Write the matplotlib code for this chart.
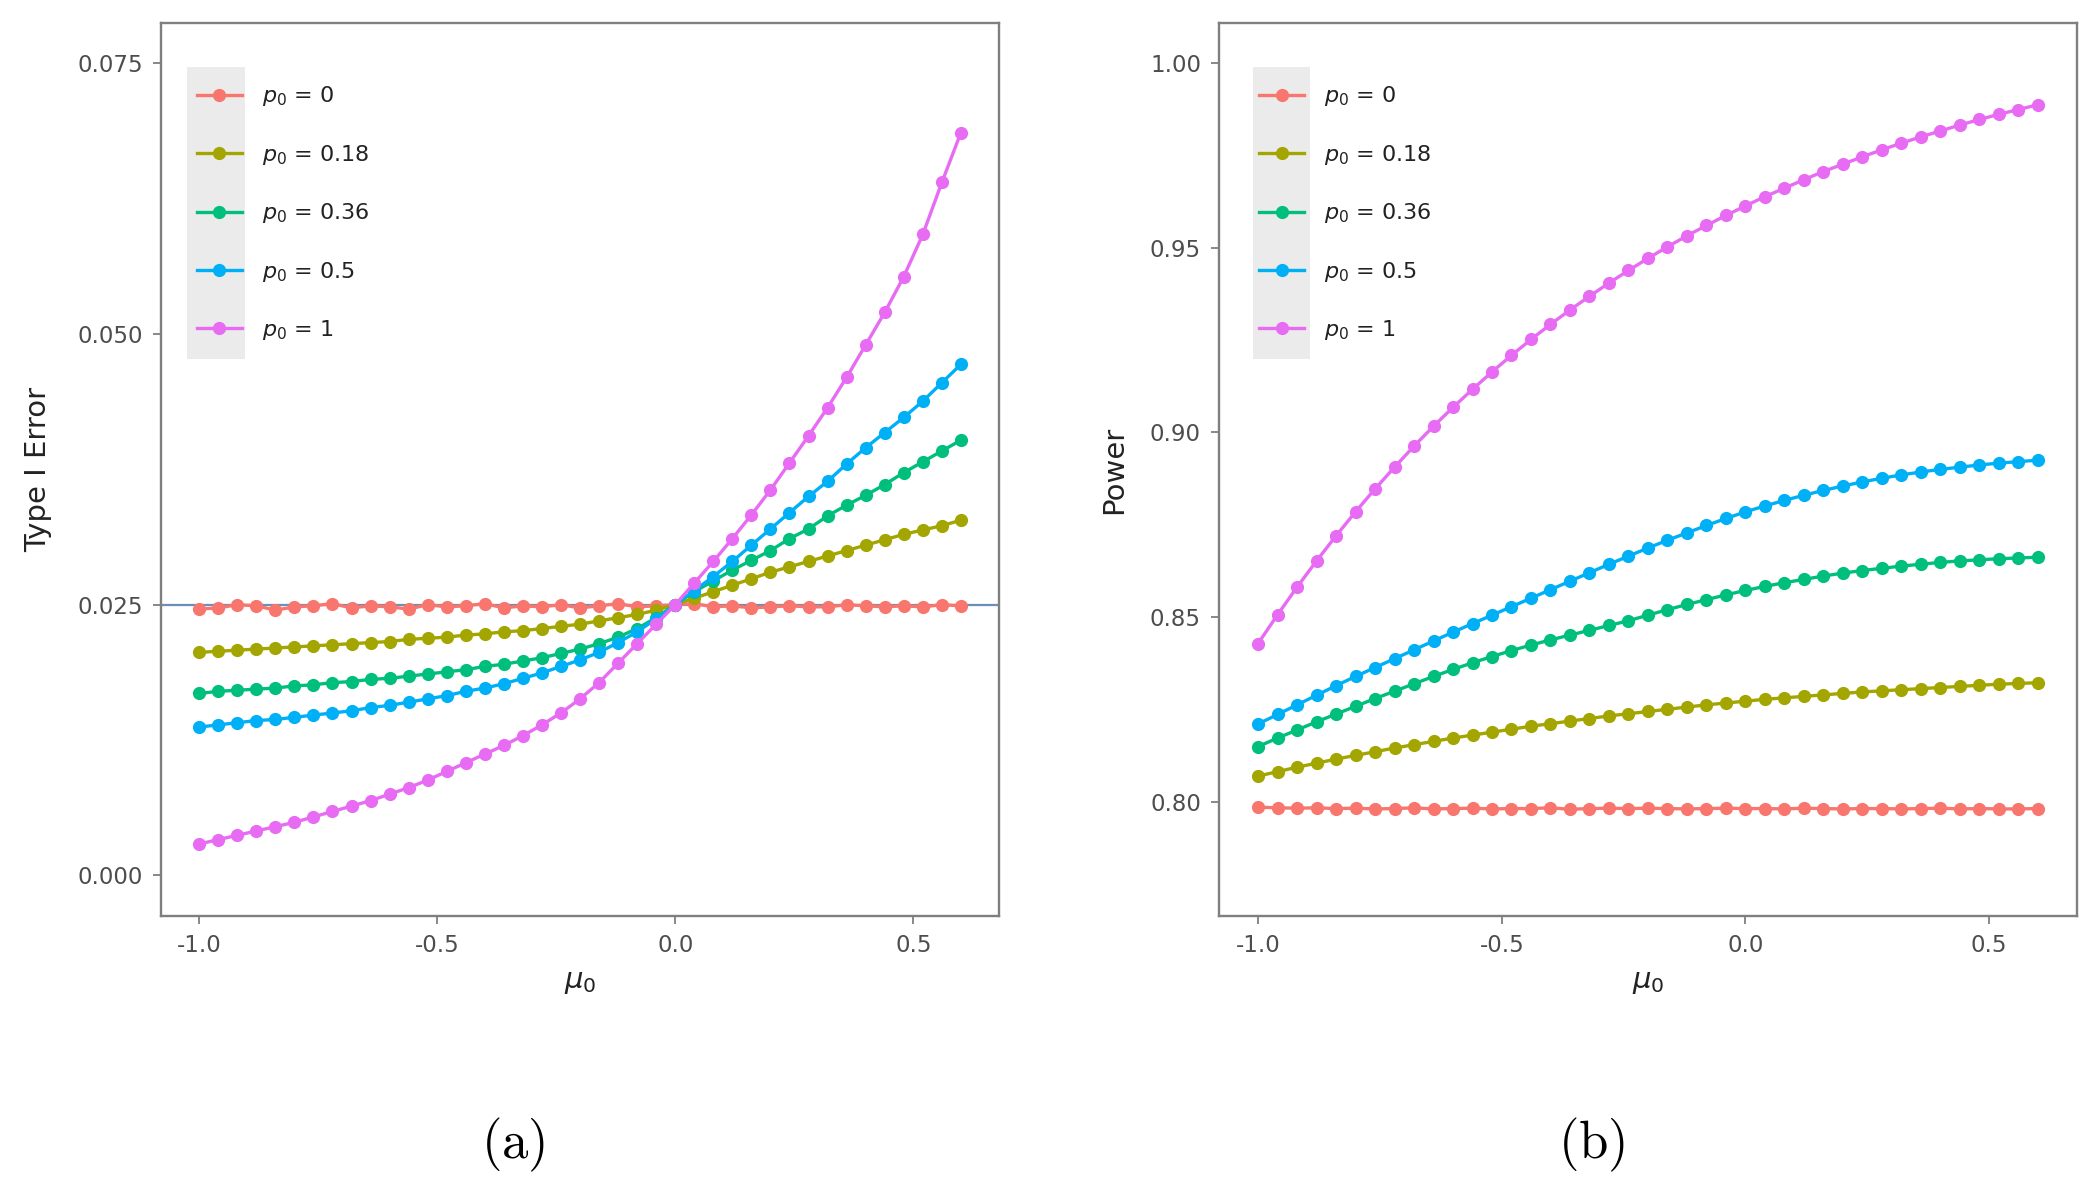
import matplotlib
matplotlib.use("Agg")
import matplotlib.pyplot as plt
from matplotlib.patches import Rectangle

plt.rcParams['font.family'] = ['DejaVu Sans']
plt.rcParams['axes.unicode_minus'] = False
plt.rcParams['mathtext.fontset'] = 'dejavusans'

mu0 = [-1.00, -0.96, -0.92, -0.88, -0.84, -0.80, -0.76, -0.72, -0.68, -0.64,
       -0.60, -0.56, -0.52, -0.48, -0.44, -0.40, -0.36, -0.32, -0.28, -0.24,
       -0.20, -0.16, -0.12, -0.08, -0.04, 0.00, 0.04, 0.08, 0.12, 0.16,
       0.20, 0.24, 0.28, 0.32, 0.36, 0.40, 0.44, 0.48, 0.52, 0.56, 0.60]

series_labels = ['0', '0.18', '0.36', '0.5', '1']
colors = ['#F8766D', '#A3A500', '#00BF7D', '#00B0F6', '#E76BF3']

# Type I error (panel a)
t1_p0 = [0.0246, 0.0247, 0.0250, 0.0249, 0.0245, 0.0248, 0.0249, 0.0251, 0.0247, 0.0249,
         0.0248, 0.0246, 0.0250, 0.0248, 0.0249, 0.0251, 0.0247, 0.0249, 0.0248, 0.0250,
         0.0247, 0.0249, 0.0251, 0.0248, 0.0249, 0.0250, 0.0251, 0.0248, 0.0249, 0.0247,
         0.0248, 0.0249, 0.0248, 0.0248, 0.0250, 0.0249, 0.0248, 0.0249, 0.0248, 0.0250, 0.0249]
t1_p018 = [0.0206, 0.0207, 0.0208, 0.0209, 0.0210, 0.0211, 0.0212, 0.0213, 0.0214, 0.0215,
           0.0216, 0.0218, 0.0219, 0.0220, 0.0222, 0.0223, 0.0225, 0.0226, 0.0228, 0.0230,
           0.0232, 0.0235, 0.0238, 0.0241, 0.0245, 0.0250, 0.0256, 0.0262, 0.0268, 0.0274,
           0.0280, 0.0285, 0.0290, 0.0295, 0.0300, 0.0305, 0.0310, 0.0315, 0.0319, 0.0323, 0.0328]
t1_p036 = [0.0168, 0.0170, 0.0171, 0.0172, 0.0173, 0.0175, 0.0176, 0.0178, 0.0179, 0.0181,
           0.0182, 0.0184, 0.0186, 0.0188, 0.0190, 0.0193, 0.0195, 0.0198, 0.0201, 0.0205,
           0.0209, 0.0214, 0.0220, 0.0228, 0.0238, 0.0250, 0.0262, 0.0272, 0.0282, 0.0291,
           0.0300, 0.0311, 0.0320, 0.0332, 0.0342, 0.0351, 0.0361, 0.0372, 0.0382, 0.0392, 0.0402]
t1_p05 = [0.0137, 0.0139, 0.0141, 0.0143, 0.0144, 0.0146, 0.0148, 0.0150, 0.0152, 0.0155,
          0.0157, 0.0160, 0.0163, 0.0166, 0.0170, 0.0173, 0.0177, 0.0182, 0.0187, 0.0193,
          0.0199, 0.0206, 0.0215, 0.0225, 0.0237, 0.0250, 0.0263, 0.0276, 0.0290, 0.0305,
          0.0320, 0.0335, 0.0350, 0.0364, 0.0380, 0.0395, 0.0409, 0.0423, 0.0438, 0.0455, 0.0472]
t1_p1 = [0.0029, 0.0033, 0.0037, 0.0041, 0.0045, 0.0049, 0.0054, 0.0059, 0.0064, 0.0069,
         0.0075, 0.0081, 0.0088, 0.0096, 0.0104, 0.0112, 0.0120, 0.0129, 0.0139, 0.0150,
         0.0163, 0.0178, 0.0196, 0.0214, 0.0232, 0.0250, 0.0270, 0.0290, 0.0311, 0.0333,
         0.0356, 0.0381, 0.0406, 0.0432, 0.0460, 0.0490, 0.0520, 0.0553, 0.0592, 0.0640, 0.0686]

# Power (panel b)
pw_p0 = [0.7985, 0.7983, 0.7982, 0.7983, 0.7981, 0.7982, 0.7980, 0.7981, 0.7983, 0.7980,
         0.7981, 0.7982, 0.7980, 0.7981, 0.7981, 0.7983, 0.7979, 0.7981, 0.7982, 0.7981,
         0.7982, 0.7981, 0.7980, 0.7981, 0.7982, 0.7981, 0.7981, 0.7980, 0.7982, 0.7981,
         0.7980, 0.7981, 0.7981, 0.7980, 0.7981, 0.7982, 0.7980, 0.7981, 0.7980, 0.7980, 0.7981]
pw_p018 = [0.8069, 0.8081, 0.8093, 0.8104, 0.8115, 0.8125, 0.8135, 0.8145, 0.8154, 0.8163,
           0.8172, 0.8180, 0.8188, 0.8196, 0.8204, 0.8211, 0.8218, 0.8225, 0.8232, 0.8238,
           0.8244, 0.8250, 0.8256, 0.8262, 0.8267, 0.8272, 0.8277, 0.8281, 0.8285, 0.8289,
           0.8293, 0.8297, 0.8300, 0.8303, 0.8306, 0.8309, 0.8312, 0.8315, 0.8318, 0.8320, 0.8322]
pw_p036 = [0.8149, 0.8172, 0.8194, 0.8216, 0.8237, 0.8258, 0.8279, 0.8299, 0.8319, 0.8339,
           0.8358, 0.8376, 0.8393, 0.8409, 0.8424, 0.8438, 0.8451, 0.8464, 0.8477, 0.8490,
           0.8505, 0.8520, 0.8534, 0.8547, 0.8560, 0.8572, 0.8583, 0.8593, 0.8602, 0.8611,
           0.8619, 0.8626, 0.8632, 0.8638, 0.8643, 0.8648, 0.8652, 0.8655, 0.8658, 0.8660, 0.8662]
pw_p05 = [0.8210, 0.8236, 0.8262, 0.8288, 0.8314, 0.8339, 0.8363, 0.8387, 0.8411, 0.8435,
          0.8459, 0.8482, 0.8505, 0.8528, 0.8551, 0.8574, 0.8597, 0.8620, 0.8643, 0.8665,
          0.8687, 0.8708, 0.8728, 0.8748, 0.8767, 0.8785, 0.8801, 0.8816, 0.8830, 0.8843,
          0.8855, 0.8866, 0.8876, 0.8885, 0.8893, 0.8900, 0.8906, 0.8912, 0.8917, 0.8921, 0.8925]
pw_p1 = [0.8428, 0.8506, 0.8581, 0.8652, 0.8720, 0.8785, 0.8847, 0.8906, 0.8963, 0.9017,
         0.9068, 0.9117, 0.9164, 0.9209, 0.9252, 0.9293, 0.9332, 0.9369, 0.9405, 0.9439,
         0.9472, 0.9503, 0.9533, 0.9561, 0.9588, 0.9614, 0.9639, 0.9662, 0.9685, 0.9707,
         0.9727, 0.9747, 0.9766, 0.9784, 0.9801, 0.9817, 0.9833, 0.9848, 0.9862, 0.9875, 0.9888]

alpha_level = 0.025
xticks = [-1.0, -0.5, 0.0, 0.5]
xticklabels = ['-1.0', '-0.5', '0.0', '0.5']
yticks_a = [0.000, 0.025, 0.050, 0.075]
yticklabels_a = ['0.000', '0.025', '0.050', '0.075']
yticks_b = [0.80, 0.85, 0.90, 0.95, 1.00]
yticklabels_b = ['0.80', '0.85', '0.90', '0.95', '1.00']

t1_all = [t1_p0, t1_p018, t1_p036, t1_p05, t1_p1]
pw_all = [pw_p0, pw_p018, pw_p036, pw_p05, pw_p1]

fig = plt.figure(figsize=(21, 12), dpi=100)
ax1 = fig.add_axes([0.0767, 0.2367, 0.3990, 0.7443])
ax2 = fig.add_axes([0.5805, 0.2367, 0.4085, 0.7443])

tick_col = '#4D4D4D'
border_col = '#7F7F7F'


def style(ax, yt, ytl, ylim, ylabel, ylabelpad):
    ax.set_xlim(-1.08, 0.68)
    ax.set_ylim(*ylim)
    ax.set_xticks(xticks)
    ax.set_xticklabels(xticklabels)
    ax.set_yticks(yt)
    ax.set_yticklabels(ytl)
    ax.tick_params(direction='out', length=6, width=1.3, colors=border_col,
                   labelcolor=tick_col, labelsize=16.5, pad=7)
    for s in ax.spines.values():
        s.set_color(border_col)
        s.set_linewidth(1.7)
    ax.set_xlabel(r'$\mu_0$', fontsize=21, color='#222222', labelpad=8)
    ax.set_ylabel(ylabel, fontsize=21, color='#222222', labelpad=ylabelpad)


def draw(ax, data, strip_x0, strip_w, leg_x):
    handles = []
    for vals, lab, c in zip(data, series_labels, colors):
        h, = ax.plot(mu0, vals, color=c, lw=2.4, marker='o', ms=9.5,
                     markeredgewidth=0, label=r'$p_0$ = ' + lab)
        handles.append(h)
    ax.add_patch(Rectangle((strip_x0, 0.624), strip_w, 0.327, transform=ax.transAxes,
                           facecolor='#EBEBEB', edgecolor='none', zorder=0))
    ax.legend(handles=handles, loc='upper left', bbox_to_anchor=(leg_x, 0.931),
              frameon=False, fontsize=16, handlelength=2.0, handletextpad=0.9,
              labelspacing=1.55, borderpad=0, borderaxespad=0,
              labelcolor='#222222')


draw(ax1, t1_all, 0.031, 0.069, 0.043)
ax1.axhline(alpha_level, color='#6B8FB5', lw=1.6, zorder=1.5)
style(ax1, yticks_a, yticklabels_a, (-0.00375, 0.07875), 'Type I Error', 18)

draw(ax2, pw_all, 0.040, 0.066, 0.047)
style(ax2, yticks_b, yticklabels_b, (0.769, 1.011), 'Power', 16)

fig.text(0.2443, 0.046, r'$\mathrm{(a)}$', fontsize=38, ha='center', va='center',
         math_fontfamily='cm')
fig.text(0.7577, 0.046, r'$\mathrm{(b)}$', fontsize=38, ha='center', va='center',
         math_fontfamily='cm')

fig.savefig('out.png', dpi=100, facecolor='white')
